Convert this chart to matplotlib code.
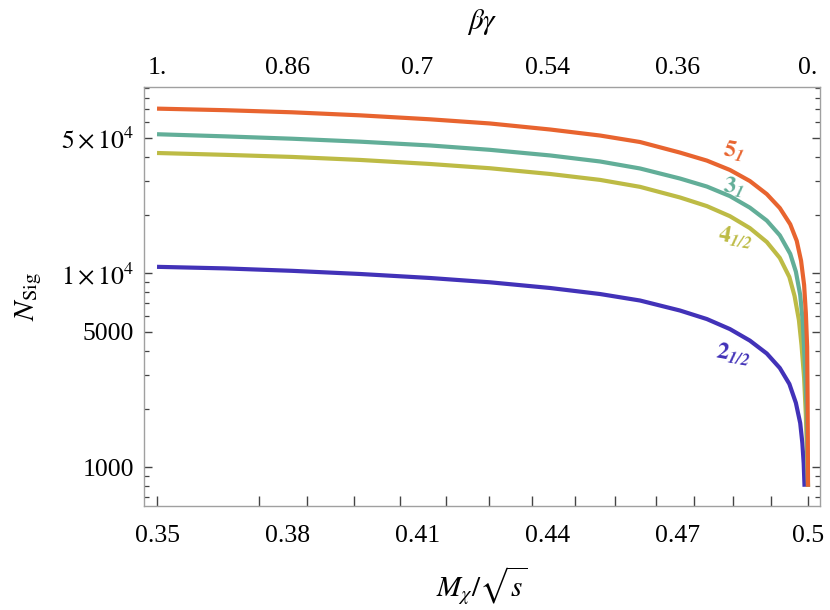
import numpy as np
import matplotlib.pyplot as plt
from matplotlib.ticker import FixedLocator, FixedFormatter, LogLocator, NullFormatter

plt.rcParams['font.family'] = ['Liberation Serif', 'DejaVu Serif']
plt.rcParams['mathtext.fontset'] = 'stix'

# x = M_chi / sqrt(s)
x_left = [0.35, 0.3657, 0.3811, 0.3968, 0.4129, 0.4267, 0.4406, 0.4521, 0.4613,
          0.4705, 0.4767, 0.4820, 0.4866, 0.4905, 0.4935]

x_5 = x_left + [0.4959, 0.4974, 0.4984, 0.4991, 0.4995, 0.4998, 0.4999, 0.5]
n_5 = [70600, 69300, 67600, 65200, 62200, 59200, 55100, 51300, 47500,
       41900, 38100, 34100, 29900, 25600, 21700,
       17900, 14700, 11600, 8700, 6240, 4170, 2300, 794]

x_3 = x_left + [0.4959, 0.4972, 0.4982, 0.4988, 0.4992, 0.4997, 0.5]
n_3 = [52100, 50800, 49400, 47700, 45600, 43300, 40500, 37700, 34700,
       30800, 28000, 25000, 21800, 18700, 15700,
       12600, 10200, 7730, 5610, 3660, 1970, 794]

x_4 = x_left + [0.4957, 0.4969, 0.4979, 0.4985, 0.4991, 0.4995, 0.5]
n_4 = [41700, 40800, 39800, 38400, 36600, 34800, 32500, 30300, 27900,
       24600, 22200, 19700, 17100, 14500, 12000,
       9570, 7640, 5740, 4270, 2890, 1860, 794]

x_2 = x_left + [0.4957, 0.4972, 0.4982, 0.4987, 0.4990, 0.4992]
n_2 = [10800, 10600, 10300, 9920, 9460, 8990, 8400, 7820, 7240,
       6430, 5810, 5160, 4500, 3860, 3250,
       2690, 2150, 1690, 1330, 1050, 794]

# axis ticks
x_labels = [0.35, 0.38, 0.41, 0.44, 0.47, 0.5]
x_label_txt = ['0.35', '0.38', '0.41', '0.44', '0.47', '0.5']
bg_label_txt = ['1.', '0.86', '0.7', '0.54', '0.36', '0.']
x_marks = [0.35, 0.3735, 0.3846, 0.3954, 0.4060, 0.4166, 0.4265, 0.4364, 0.4463,
           0.4555, 0.4650, 0.4737, 0.4827, 0.4915, 0.5]
y_major = [1000, 5000, 1e4, 5e4]
y_major_txt = ['1000', '5000', r'$1\times10^{4}$', r'$5\times10^{4}$']

c_5 = '#e8642f'
c_3 = '#62ae98'
c_4 = '#bdbb45'
c_2 = '#4232b8'

fig = plt.figure(figsize=(8.3, 6.1), dpi=100)
ax = fig.add_axes([144/830, 104/610, 676/830, 419/610])

lw = 3.0
ax.plot(x_2, n_2, color=c_2, lw=lw, solid_capstyle='butt', solid_joinstyle='round')
ax.plot(x_4, n_4, color=c_4, lw=lw, solid_capstyle='butt', solid_joinstyle='round')
ax.plot(x_3, n_3, color=c_3, lw=lw, solid_capstyle='butt', solid_joinstyle='round')
ax.plot(x_5, n_5, color=c_5, lw=lw, solid_capstyle='butt', solid_joinstyle='round')

ax.set_yscale('log')
ax.set_xlim(0.347, 0.50276)
ax.set_ylim(632, 91260)

frame_c = '#a0a0a0'
for s in ax.spines.values():
    s.set_color(frame_c)
    s.set_linewidth(1.0)

fs = 18.5
# x: labels on major ticks (no mark), marks on minor ticks
ax.xaxis.remove_overlapping_locs = False
ax.xaxis.set_major_locator(FixedLocator(x_labels))
ax.xaxis.set_major_formatter(FixedFormatter(x_label_txt))
ax.xaxis.set_minor_locator(FixedLocator(x_marks))
ax.xaxis.set_minor_formatter(NullFormatter())
ax.tick_params(axis='x', which='major', length=0, pad=14, labelsize=fs)
ax.tick_params(axis='x', which='minor', length=7, width=1.0, direction='in',
               color='#444444', top=True)

# y: log ticks on both sides
ax.yaxis.set_major_locator(FixedLocator(y_major))
ax.yaxis.set_major_formatter(FixedFormatter(y_major_txt))
ax.yaxis.set_minor_locator(LogLocator(base=10, subs=np.arange(2, 10)))
ax.yaxis.set_minor_formatter(NullFormatter())
ax.tick_params(axis='y', which='major', length=6, width=1.0, direction='in',
               color='#444444', right=True, labelsize=fs, pad=7)
ax.tick_params(axis='y', which='minor', length=3.5, width=0.9, direction='in',
               color='#444444', right=True)

# top axis: beta*gamma
ax2 = ax.twiny()
ax2.set_xlim(ax.get_xlim())
ax2.xaxis.set_major_locator(FixedLocator(x_labels))
ax2.xaxis.set_major_formatter(FixedFormatter(bg_label_txt))
ax2.tick_params(axis='x', which='major', length=0, pad=6, labelsize=fs)
for s in ax2.spines.values():
    s.set_visible(False)

ax2.set_xlabel(r'$\beta\gamma$', fontsize=21, labelpad=20)
ax.set_xlabel(r'$M_\chi/\sqrt{s}$', fontsize=21, labelpad=12)
ax.set_ylabel(r'$N_{\mathrm{Sig}}$', fontsize=21, labelpad=12)

# curve labels
lab_kw = dict(fontsize=17, ha='center', va='center', rotation=-10)
ax.text(0.4828, 42300, r'$\mathbf{5}_{\mathbfit{1}}$', color=c_5, **lab_kw)
ax.text(0.4828, 27800, r'$\mathbf{3}_{\mathbfit{1}}$', color=c_3, **lab_kw)
ax.text(0.4832, 15300, r'$\mathbf{4}_{\mathbfit{1/2}}$', color=c_4, **lab_kw)
ax.text(0.4828, 3820, r'$\mathbf{2}_{\mathbfit{1/2}}$', color=c_2, **lab_kw)

fig.savefig('out.png', dpi=100)
